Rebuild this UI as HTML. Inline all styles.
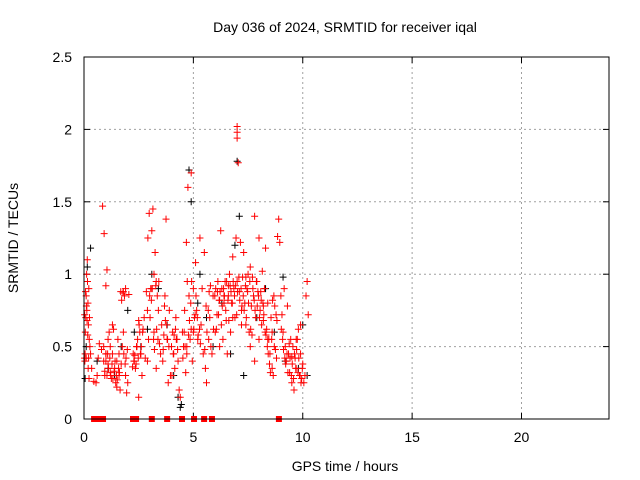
<!DOCTYPE html>
<html><head><meta charset="utf-8"><style>
html,body{margin:0;padding:0;background:#fff}
svg{display:block;font-family:"Liberation Sans",sans-serif}
</style></head><body>
<svg id="c" width="640" height="480" viewBox="0 0 640 480">
<rect width="640" height="480" fill="#fff"/>
<text x="345" y="32" font-size="14" text-anchor="middle">Day 036 of 2024, SRMTID for receiver iqal</text>
<text x="345" y="471" font-size="14" text-anchor="middle">GPS time / hours</text>
<text transform="translate(18,238) rotate(-90)" font-size="14" text-anchor="middle">SRMTID / TECUs</text>
<g id="grid"></g><g id="ticks"></g><g id="black"></g><g id="red"></g>
<rect x="84" y="57" width="525" height="362" fill="none" stroke="#000" stroke-width="1"/>
</svg>
<script>
const xTicks=[0,5,10,15,20];
const yTicks=[0,0.5,1,1.5,2,2.5];
const yTickLabels=["0","0.5","1","1.5","2","2.5"];
const redT=[0.02,0.04,0.05,0.06,0.08,0.1,0.1,0.12,0.13,0.15,0.16,0.18,0.2,0.22,0.24,0.25,0.27,0.3,0.35,0.45,0.55,0.6,0.65,0.7,0.8,0.85,0.9,0.92,0.95,1.0,1.0,1.05,1.1,1.1,1.15,1.2,1.2,1.25,1.3,1.35,1.4,1.45,1.5,1.5,1.55,1.6,1.6,1.65,1.7,1.75,1.8,1.8,1.85,1.9,1.9,1.95,2.0,2.05,2.25,2.3,2.35,2.4,2.45,2.5,2.55,2.6,2.65,2.7,2.75,2.8,2.9,2.95,3.0,3.05,3.1,3.15,3.2,3.2,3.25,3.3,3.35,3.4,3.45,3.5,3.55,3.6,3.65,3.7,3.75,3.8,3.85,3.9,3.95,4.0,4.05,4.1,4.15,4.2,4.25,4.3,4.35,4.4,4.5,4.55,4.6,4.65,4.7,4.75,4.8,4.85,4.9,4.95,5.0,5.0,5.05,5.1,5.15,5.2,5.3,5.35,5.4,5.45,5.5,5.55,5.6,5.7,5.75,5.8,5.85,5.9,6.0,6.05,6.1,6.15,6.2,6.25,6.3,6.35,6.4,6.45,6.5,6.55,6.6,6.65,6.7,6.75,6.8,6.85,6.9,6.95,7.0,7.0,7.0,7.0,7.05,7.1,7.15,7.2,7.25,7.3,7.35,7.4,7.45,7.5,7.55,7.6,7.65,7.7,7.75,7.8,7.85,7.9,7.95,8.0,8.05,8.1,8.15,8.2,8.25,8.3,8.35,8.4,8.45,8.5,8.55,8.6,8.65,8.7,8.75,8.8,8.85,8.9,8.95,9.0,9.05,9.1,9.15,9.2,9.25,9.3,9.35,9.4,9.45,9.5,9.55,9.6,9.65,9.7,9.75,9.8,9.85,9.9,9.95,10.0,10.05,10.1,10.15,10.2,10.25,6.2,6.6,7.2,7.6,8.2,8.6,6.4,6.8,7.4,7.8,8.4,8.0,3.1,3.3,4.7,4.9,1.0,1.3,2.5,2.9,9.5,9.7,9.9,
0.03,0.07,0.11,0.14,0.17,0.19,0.21,0.23,0.9,0.95,1.0,1.05,1.08,1.12,1.18,1.22,1.28,1.32,1.38,1.42,1.48,1.52,1.58,1.62,1.68,1.72,1.78,1.82,1.88,1.92,1.98,2.22,2.28,2.32,2.38,2.42,2.48,2.52,2.58,2.62,2.68,2.85,2.92,2.98,3.02,3.08,3.12,3.18,3.22,3.28,3.32,3.38,3.42,3.62,3.68,3.72,3.78,3.82,3.88,4.02,4.08,4.12,4.18,4.22,4.28,4.52,4.58,4.62,4.68,4.72,4.78,4.82,4.88,4.92,5.02,5.08,5.12,5.18,5.22,5.28,5.32,5.52,5.58,5.62,5.68,5.72,5.78,5.92,5.98,6.02,6.08,6.12,6.18,6.22,6.28,6.32,6.38,6.42,6.48,6.52,6.58,6.62,6.68,6.72,6.78,6.82,6.88,6.92,6.98,7.02,7.08,7.12,7.18,7.22,7.28,7.32,7.38,7.42,7.48,7.52,7.58,7.62,7.68,7.72,7.78,7.82,7.88,7.92,7.98,8.02,8.08,8.12,8.18,8.22,8.28,8.32,8.38,8.42,8.48,8.52,8.58,8.62,8.68,8.72,8.78,8.82,9.02,9.08,9.12,9.18,9.22,9.28,9.32,9.38,9.42,9.48,9.52,9.58,9.62,9.68,9.72,9.78,9.82,9.88,9.92,9.98,10.02,10.08,10.12,10.18,10.22];
const redV=[0.42,0.4,0.45,0.6,0.7,0.85,0.42,1.0,0.75,1.1,0.95,0.8,0.65,0.9,0.55,0.7,0.5,0.45,0.35,0.26,0.25,0.3,0.42,0.52,0.48,1.47,0.4,1.28,0.3,0.92,0.45,1.03,0.38,0.55,0.6,0.32,0.5,0.28,0.45,0.62,0.35,0.25,0.22,0.4,0.55,0.3,0.45,0.2,0.38,0.5,0.88,0.6,0.85,0.3,0.9,0.18,0.25,0.86,0.45,0.4,0.35,0.5,0.55,0.68,0.6,0.45,0.3,0.62,0.7,0.42,0.75,0.55,0.85,0.9,1.3,1.45,1.0,0.6,1.15,0.95,0.85,0.75,0.52,0.45,0.65,0.4,0.58,0.85,1.38,0.55,0.25,0.75,0.3,0.5,0.6,0.45,0.35,0.7,0.55,0.4,0.2,0.15,0.6,0.5,0.75,0.32,0.45,1.6,0.85,0.55,1.7,0.4,0.9,0.6,0.7,1.08,0.75,0.55,1.25,0.65,0.9,0.45,1.15,0.35,0.25,0.55,0.7,0.5,0.45,0.85,0.6,0.62,0.88,0.72,0.5,1.3,0.9,0.55,0.8,0.95,0.68,0.45,0.85,1.0,0.6,0.8,1.12,0.9,0.7,1.25,0.95,2.02,1.98,1.94,1.77,0.88,1.22,0.75,0.98,1.15,0.8,0.65,0.9,1.0,0.6,0.5,0.78,0.98,0.85,1.4,0.7,0.95,0.88,0.55,0.75,0.82,1.02,0.68,0.9,1.18,0.62,0.8,0.55,0.45,0.7,0.35,0.3,0.5,0.48,0.42,1.26,1.38,1.22,0.85,0.72,0.6,0.9,0.5,0.4,0.78,0.45,0.32,0.55,0.25,0.5,0.2,0.42,0.35,0.55,0.62,0.3,0.45,0.28,0.38,0.25,0.3,0.85,0.95,0.72,0.82,0.92,0.65,1.05,0.78,0.6,0.85,0.7,0.98,0.4,0.55,1.25,0.9,0.35,0.5,0.62,0.45,0.65,0.15,0.4,
0.43,0.55,0.65,0.72,0.88,0.78,0.68,0.58,0.35,0.42,0.28,0.5,0.33,0.4,0.3,0.45,0.35,0.42,0.3,0.38,0.28,0.33,0.4,0.3,0.27,0.35,0.32,0.88,0.82,0.87,0.45,0.38,0.42,0.48,0.36,0.4,0.44,0.38,0.5,0.42,0.65,0.45,0.5,0.6,0.88,1.25,1.42,0.7,0.82,0.9,0.55,0.48,0.92,0.62,0.55,0.95,0.48,0.78,0.68,0.65,0.55,0.5,0.3,0.45,0.58,0.62,0.55,0.48,0.42,0.6,0.5,1.22,0.95,0.58,0.68,0.8,0.95,0.62,0.72,0.85,0.7,0.58,0.62,0.52,0.48,0.78,0.6,0.75,0.88,0.92,0.62,0.85,0.9,0.72,0.95,0.82,0.88,0.65,0.78,0.9,0.85,0.75,0.95,0.82,0.68,0.92,0.88,0.8,0.95,0.85,0.92,0.72,0.88,0.98,0.82,0.9,0.78,0.85,0.75,0.92,0.7,0.88,0.8,0.95,0.62,0.58,0.9,0.82,0.75,0.95,0.78,0.85,0.7,0.88,0.65,0.8,0.72,0.6,0.58,0.5,0.45,0.38,0.32,0.55,0.82,0.85,0.78,0.72,0.68,0.62,0.55,0.48,0.42,0.38,0.45,0.32,0.52,0.42,0.3,0.38,0.28,0.45,0.35,0.48,0.32,0.42,0.3,0.25,0.35];
const blackT=[0.05,0.15,0.3,0.6,1.1,1.4,1.7,2.3,2.6,2.9,3.1,3.4,3.8,4.1,4.3,4.4,4.8,4.9,5.2,5.6,5.9,6.3,6.7,7.0,7.1,7.3,7.9,8.3,8.7,9.1,9.2,9.6,9.8,10.0,10.2,4.45,0.1,2.0,6.9,5.3];
const blackV=[0.28,1.05,1.18,0.4,0.35,0.3,0.5,0.6,0.5,0.62,1.0,0.9,0.65,0.3,0.15,0.08,1.72,1.5,0.8,0.7,0.5,0.8,0.45,1.78,1.4,0.3,0.7,0.9,0.6,0.98,0.4,0.2,0.35,0.65,0.3,0.1,0.5,0.75,1.2,1.0];
const zeroT=[0.46,0.6,0.69,0.78,0.87,2.24,2.31,2.38,3.1,3.8,4.48,5.03,5.49,5.85,8.91];
const NS="http://www.w3.org/2000/svg";
const X=t=>84+t*525/24, Y=v=>419-v*362/2.5;
function mk(tag,attrs,parent){const e=document.createElementNS(NS,tag);for(const k in attrs)e.setAttribute(k,attrs[k]);parent.appendChild(e);return e;}
const grid=document.getElementById('grid'),ticks=document.getElementById('ticks');
xTicks.forEach(t=>{
 if(t>0){const g=mk('line',{x1:X(t),x2:X(t),y1:57,y2:419,stroke:'#a0a0a0','stroke-dasharray':'2,3'},grid);
 
 }
 mk('line',{x1:X(t),x2:X(t),y1:419,y2:413,stroke:'#000'},ticks);
 mk('line',{x1:X(t),x2:X(t),y1:57,y2:63,stroke:'#000'},ticks);
 const l=mk('text',{x:X(t),y:442,'font-size':14,'text-anchor':'middle'},ticks);l.textContent=t;
 
 
});
yTicks.forEach((v,i)=>{
 if(v>0&&v<2.5){const g=mk('line',{x1:84,x2:609,y1:Y(v),y2:Y(v),stroke:'#a0a0a0','stroke-dasharray':'2,3'},grid);
 
 }
 mk('line',{x1:84,x2:90,y1:Y(v),y2:Y(v),stroke:'#000'},ticks);
 mk('line',{x1:603,x2:609,y1:Y(v),y2:Y(v),stroke:'#000'},ticks);
 const l=mk('text',{x:72,y:Y(v)+5,'font-size':14,'text-anchor':'end'},ticks);l.textContent=yTickLabels[i];
 
 
});
function plus(t,v,color,parent,name){
 const x=X(t),y=Y(v);
 const p=mk('path',{d:`M${x-3.5},${y}H${x+3.5}M${x},${y-3.5}V${y+3.5}`,stroke:color,'stroke-width':1,fill:'none'},parent);
 
 
}
const bg=document.getElementById('black'),rg=document.getElementById('red');
blackT.forEach((t,i)=>plus(t,blackV[i],'#000',bg,'black-point'));
redT.forEach((t,i)=>plus(t,redV[i],'#f00',rg,'red-point'));
zeroT.forEach(t=>{const r=mk('rect',{x:X(t)-3,y:416,width:6,height:6,fill:'#f00'},rg);
 
 });
</script>
</body></html>
